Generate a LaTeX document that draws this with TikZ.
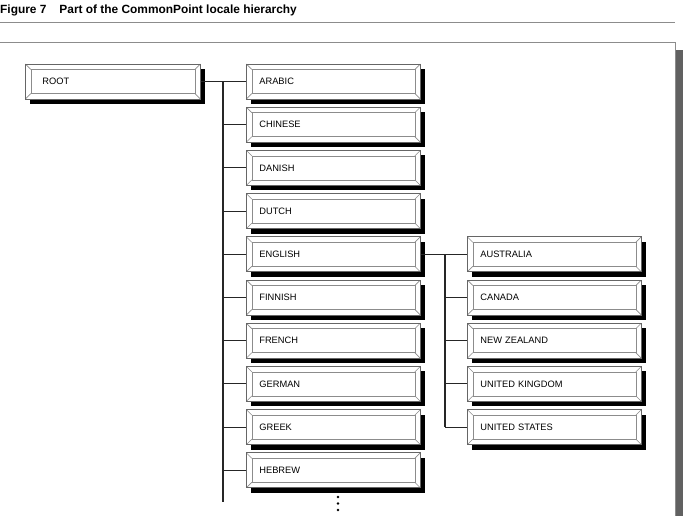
\documentclass[tikz,border=0pt]{standalone}
\usepackage{fontspec}
\setmainfont{Liberation Sans}
\usetikzlibrary{shadows}
\tikzset{
  bevbox/.style={draw=black!60, line width=0.7pt, fill=white,
    minimum width=174pt, minimum height=35pt, inner sep=0pt,
    text width=148pt, align=left, anchor=west,
    font=\fontsize{9.3}{10}\selectfont,
    general shadow={fill=black, shadow xshift=4.5pt, shadow yshift=-5pt},
    path picture={
      \coordinate (pnw) at (path picture bounding box.north west);
      \coordinate (pse) at (path picture bounding box.south east);
      \coordinate (pne) at (path picture bounding box.north east);
      \coordinate (psw) at (path picture bounding box.south west);
      \draw[black!45, line width=0.6pt]
        ([shift={(5.5pt,-5.5pt)}]pnw) rectangle ([shift={(-5.5pt,5.5pt)}]pse);
      \draw[black!45, line width=0.6pt]
        (pnw) -- ([shift={(5.5pt,-5.5pt)}]pnw)
        (pne) -- ([shift={(-5.5pt,-5.5pt)}]pne)
        (pse) -- ([shift={(-5.5pt,5.5pt)}]pse)
        (psw) -- ([shift={(5.5pt,5.5pt)}]psw);
    }},
  conn/.style={draw=black!85, line width=1.1pt},
  rule/.style={draw=black!45, line width=0.6pt},
  dotm/.style={fill=black, circle, inner sep=0pt, minimum size=2.6pt}
}
\begin{document}
\begin{tikzpicture}[x=1pt,y=-1pt]
\useasboundingbox (0,0) rectangle (683,516);
% title
\node[anchor=base west, inner sep=0pt, font=\fontsize{11.9}{13}\selectfont\bfseries] (title) at (0,13.5)
  {Figure 7\hspace{13pt}Part of the CommonPoint locale hierarchy};
% rules and frame
\draw[rule] (0,22) -- (675,22);
\draw[rule] (0,42) -- (675,42) -- (675,516);
\fill[black!62] (676,50) rectangle (683,516);
% root
\node[bevbox, minimum width=175pt, text width=141pt] (root) at (25,81.5) {ROOT};
% children
\def\ystep{43.2}
\foreach \name/\lab [count=\i from 0] in {ar/ARABIC,zh/CHINESE,da/DANISH,nl/DUTCH,en/ENGLISH,fi/FINNISH,fr/FRENCH,de/GERMAN,el/GREEK,he/HEBREW}{
  \node[bevbox] (\name) at (246,81.5+\i*\ystep) {\lab};
}
\foreach \name/\lab [count=\i from 4] in {au/AUSTRALIA,ca/CANADA,nz/NEW ZEALAND,uk/UNITED KINGDOM,us/UNITED STATES}{
  \node[bevbox] (\name) at (467,81.5+\i*\ystep) {\lab};
}
% bus from root
\coordinate (busT) at (223,81.5);
\coordinate (busB) at (223,502);
\draw[conn] (root.east) -- (ar.west);
\draw[conn] (busT) -- (busB);
\foreach \name in {zh,da,nl,en,fi,fr,de,el,he}{
  \draw[conn] (\name.west -| busT) -- (\name.west);
}
% english bus
\coordinate (ebT) at (445,0);
\draw[conn] (en.east) -- (au.west);
\draw[conn] (au.west -| ebT) -- (us.west -| ebT);
\foreach \name in {ca,nz,uk,us}{
  \draw[conn] (\name.west -| ebT) -- (\name.west);
}
% ellipsis dots
\node[dotm] (d1) at (338,497) {};
\node[dotm] (d2) at (338,503.5) {};
\node[dotm] (d3) at (338,510) {};
\end{tikzpicture}
\end{document}
